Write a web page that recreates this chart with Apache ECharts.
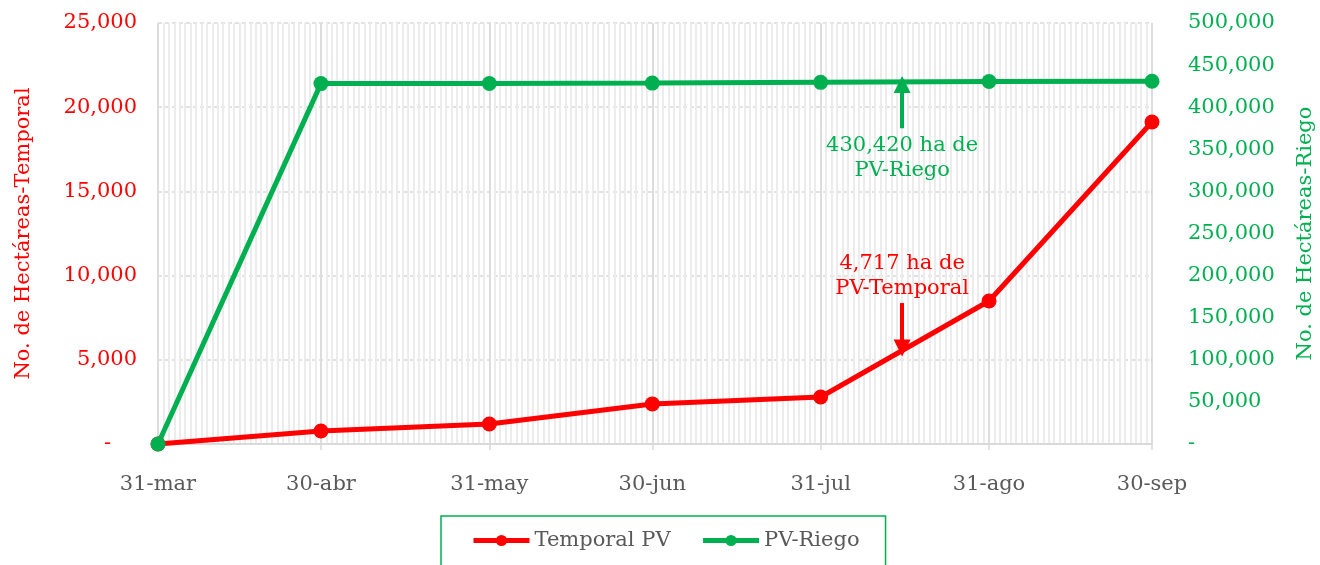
<!DOCTYPE html>
<html>
<head>
<meta charset="utf-8">
<title>Hectáreas PV</title>
<script src="https://cdn.jsdelivr.net/npm/echarts@6/dist/echarts.min.js"></script>
<style>
  html, body { margin: 0; padding: 0; background: #fff; }
  #chart { width: 1320px; height: 565px; }
</style>
</head>
<body>
<div id="chart"></div>
<script>
  // fechas de corte (fin de mes) y valores
  const categories = ['31-mar', '30-abr', '31-may', '30-jun', '31-jul', '31-ago', '30-sep']
  const temporalPV = [0, 770, 1190, 2380, 2790, 8490, 19120]
  const riegoPV = [0, 428000, 428200, 428600, 429500, 430600, 430900]
  const leftTicks = [0, 25000, 5000]   // min, max, interval
  const rightTicks = [0, 500000, 50000]

  // anotaciones
  const noteDay = '15-ago'
  const temporalNote = { text: '4,717 ha de\nPV-Temporal', label: 10000, from: 8370, to: 5700 }
  const riegoNote = { text: '430,420 ha de\nPV-Riego', label: 340000, from: 375000, to: 427000 }

  const RED = '#ff0000'
  const GREEN = '#00b050'
  const GREY = '#595959'
  const FONT = 'DejaVu Serif'
  const FS = 21

  // eje de fechas: un dia por categoria
  const months = ['ene', 'feb', 'mar', 'abr', 'may', 'jun', 'jul', 'ago', 'sep', 'oct', 'nov', 'dic']
  const days = []
  for (let t = Date.UTC(2021, 2, 31); t <= Date.UTC(2021, 8, 30); t += 864e5) {
    const d = new Date(t)
    days.push(d.getUTCDate() + '-' + months[d.getUTCMonth()])
  }
  const isMajor = (idx) => categories.indexOf(days[idx]) !== -1

  const fmt = (v) => v.toLocaleString('en-US')

  function arrow(color, from, to) {
    return {
      silent: true,
      symbol: ['none', 'triangle'],
      symbolSize: [17, 17],
      label: { show: false },
      lineStyle: { color: color, width: 4, type: 'solid' },
      itemStyle: { color: color },
      data: [[{ coord: [noteDay, from] }, { coord: [noteDay, to] }]]
    }
  }

  function note(color, text, value) {
    return {
      silent: true,
      symbol: 'rect',
      symbolSize: 1,
      itemStyle: { color: 'rgba(0,0,0,0)' },
      label: {
        show: true,
        position: 'inside',
        color: color,
        fontSize: FS,
        lineHeight: 25,
        fontFamily: FONT,
        align: 'center',
        formatter: text
      },
      data: [{ coord: [noteDay, value] }]
    }
  }

  const chart = echarts.init(document.getElementById('chart'))
  chart.setOption({
    animation: false,
    textStyle: { fontFamily: FONT },
    grid: { left: 158, right: 168, top: 23, bottom: 121, outerBoundsMode: 'none', containLabel: false },
    legend: {
      left: 441,
      top: 516,
      padding: [14, 26, 30, 30],
      itemGap: 30,
      itemWidth: 56,
      itemHeight: 14,
      borderColor: GREEN,
      borderWidth: 1.5,
      lineStyle: { width: 5 },
      textStyle: { fontFamily: FONT, fontSize: FS, color: GREY },
      data: ['Temporal PV', 'PV-Riego']
    },
    xAxis: [
      {
        type: 'category',
        position: 'bottom',
        boundaryGap: false,
        data: days,
        z: 1,
        axisLine: { lineStyle: { color: '#d9d9d9', width: 1.5 } },
        axisTick: { show: true, interval: isMajor, length: 6, lineStyle: { color: '#d9d9d9', width: 1.5 } },
        axisLabel: { interval: isMajor, color: GREY, fontSize: FS, margin: 30, fontFamily: FONT },
        splitLine: { show: true, interval: isMajor, lineStyle: { color: '#d9d9d9', width: 1.5 } }
      },
      {
        type: 'category',
        position: 'top',
        boundaryGap: false,
        data: days,
        z: 0,
        axisLine: { show: true, lineStyle: { color: '#d9d9d9', width: 1.5 } },
        axisTick: { show: false },
        axisLabel: { show: false },
        splitLine: { show: true, interval: 0, lineStyle: { color: '#ececec', width: 2 } }
      }
    ],
    yAxis: [
      {
        type: 'value',
        position: 'left',
        min: leftTicks[0],
        max: leftTicks[1],
        interval: leftTicks[2],
        name: 'No. de Hectáreas-Temporal',
        nameLocation: 'middle',
        nameRotate: 90,
        nameGap: 124,
        nameTextStyle: { color: RED, fontSize: FS, fontFamily: FONT },
        axisLine: { show: false },
        axisTick: { show: false },
        axisLabel: {
          color: RED,
          fontSize: FS,
          margin: 21,
          fontFamily: FONT,
          formatter: (v) => v === 0 ? '{z|-}' : fmt(v),
          rich: { z: { color: RED, fontSize: FS, fontFamily: FONT, padding: [0, 26, 0, 0] } }
        },
        splitLine: { show: true, lineStyle: { color: '#d9d9d9', type: [4, 3], width: 1.5 } }
      },
      {
        type: 'value',
        position: 'right',
        min: rightTicks[0],
        max: rightTicks[1],
        interval: rightTicks[2],
        name: 'No. de Hectáreas-Riego',
        nameLocation: 'middle',
        nameRotate: 90,
        nameGap: 143,
        nameTextStyle: { color: GREEN, fontSize: FS, fontFamily: FONT },
        axisLine: { show: false },
        axisTick: { show: false },
        axisLabel: {
          color: GREEN,
          fontSize: FS,
          margin: 36,
          fontFamily: FONT,
          formatter: (v) => v === 0 ? '-' : fmt(v)
        },
        splitLine: { show: false }
      }
    ],
    series: [
      {
        name: 'Temporal PV',
        type: 'line',
        xAxisIndex: 0,
        yAxisIndex: 0,
        data: categories.map((c, i) => [c, temporalPV[i]]),
        symbol: 'circle',
        symbolSize: 15,
        color: RED,
        lineStyle: { color: RED, width: 5 },
        itemStyle: { color: RED },
        markLine: arrow(RED, temporalNote.from, temporalNote.to),
        markPoint: note(RED, temporalNote.text, temporalNote.label)
      },
      {
        name: 'PV-Riego',
        type: 'line',
        xAxisIndex: 0,
        yAxisIndex: 1,
        data: categories.map((c, i) => [c, riegoPV[i]]),
        symbol: 'circle',
        symbolSize: 15,
        color: GREEN,
        lineStyle: { color: GREEN, width: 5 },
        itemStyle: { color: GREEN },
        markLine: arrow(GREEN, riegoNote.from, riegoNote.to),
        markPoint: note(GREEN, riegoNote.text, riegoNote.label)
      }
    ]
  })
</script>
</body>
</html>
